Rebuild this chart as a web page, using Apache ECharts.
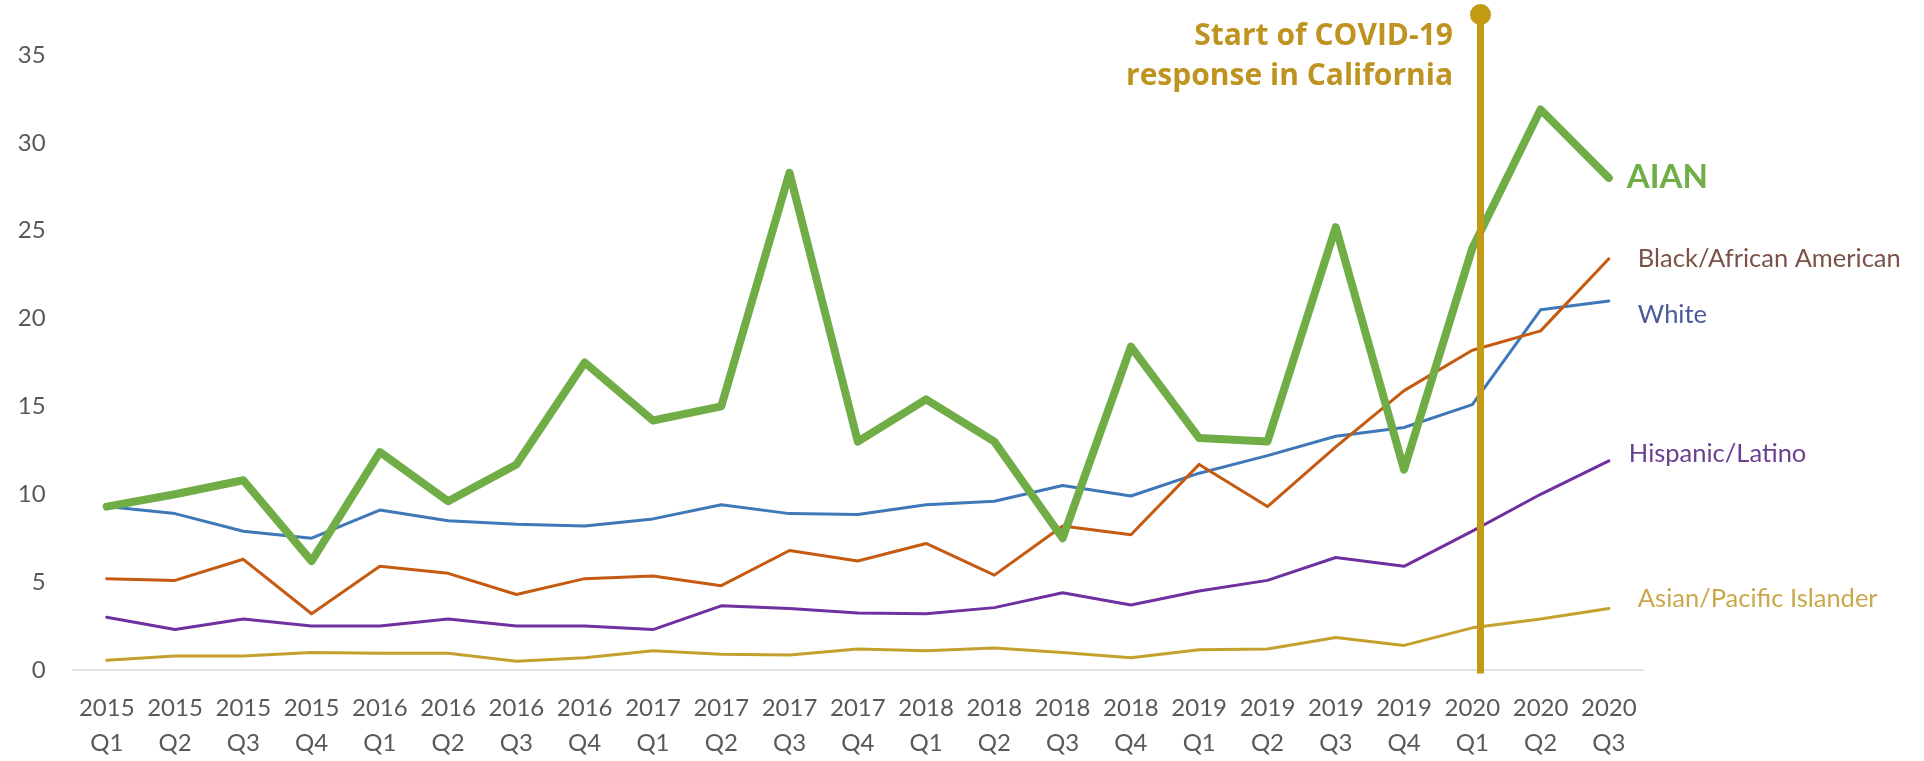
<!DOCTYPE html>
<html>
<head>
<meta charset="utf-8">
<script src="https://cdn.jsdelivr.net/npm/echarts@6/dist/echarts.min.js"></script>
<style>
  html, body { margin: 0; padding: 0; background: #fff; }
  #chart { width: 1924px; height: 761px; }
</style>
</head>
<body>
<div id="chart"></div>
<script>
// quarters on the x axis
const quarters = [
  '2015\nQ1', '2015\nQ2', '2015\nQ3', '2015\nQ4',
  '2016\nQ1', '2016\nQ2', '2016\nQ3', '2016\nQ4',
  '2017\nQ1', '2017\nQ2', '2017\nQ3', '2017\nQ4',
  '2018\nQ1', '2018\nQ2', '2018\nQ3', '2018\nQ4',
  '2019\nQ1', '2019\nQ2', '2019\nQ3', '2019\nQ4',
  '2020\nQ1', '2020\nQ2', '2020\nQ3'
]

// series values
const aian = [9.3, 10.0, 10.8, 6.2, 12.4, 9.6, 11.7, 17.5, 14.2, 15.0, 28.3, 13.0, 15.4, 13.0, 7.5, 18.4, 13.2, 13.0, 25.2, 11.4, 24.0, 31.9, 28.0]
const black = [5.2, 5.1, 6.3, 3.2, 5.9, 5.5, 4.3, 5.2, 5.35, 4.8, 6.8, 6.2, 7.2, 5.4, 8.2, 7.7, 11.7, 9.3, 12.7, 15.9, 18.2, 19.3, 23.4]
const white = [9.3, 8.9, 7.9, 7.5, 9.1, 8.5, 8.3, 8.2, 8.6, 9.4, 8.9, 8.85, 9.4, 9.6, 10.5, 9.9, 11.2, 12.2, 13.3, 13.8, 15.1, 20.5, 21.0]
const hispanic = [3.0, 2.3, 2.9, 2.5, 2.5, 2.9, 2.5, 2.5, 2.3, 3.65, 3.5, 3.25, 3.2, 3.55, 4.4, 3.7, 4.5, 5.1, 6.4, 5.9, 7.9, 10.0, 11.9]
const asian = [0.55, 0.8, 0.8, 1.0, 0.95, 0.95, 0.5, 0.7, 1.1, 0.9, 0.85, 1.2, 1.1, 1.25, 1.0, 0.7, 1.15, 1.2, 1.85, 1.4, 2.4, 2.9, 3.5]

// y axis ticks
const yTicks = [0, 5, 10, 15, 20, 25, 30, 35]

// covid marker: position on the quarter index scale, bottom and top values
const covidAt = 20.12
const covidRange = [-0.2, 37.3]
const covidText = 'Start of COVID-19\nresponse in California'

const FONT = 'Lato'

const chart = echarts.init(document.getElementById('chart'))

// one line series with a label at its end
const lineSeries = (name, data, color, width, label) => ({
  name: name,
  type: 'line',
  data: data,
  symbol: 'none',
  lineStyle: { color: color, width: width, cap: 'round', join: 'round' },
  endLabel: Object.assign({
    show: true,
    formatter: name,
    fontFamily: FONT
  }, label)
})

const option = {
  animation: false,
  backgroundColor: '#fff',
  grid: { left: 72.6, right: 281, top: 55, bottom: 89.5, containLabel: false },
  xAxis: [
    {
      type: 'category',
      data: quarters,
      boundaryGap: true,
      axisLine: { lineStyle: { color: '#d9d9d9', width: 1.5 } },
      axisTick: { show: false },
      axisLabel: {
        color: '#595959',
        fontFamily: FONT,
        fontSize: 24,
        lineHeight: 35,
        margin: 21,
        interval: 0
      }
    },
    {
      // hidden helper axis so the marker can sit between quarters
      type: 'value',
      min: -0.5,
      max: quarters.length - 0.5,
      show: false
    }
  ],
  yAxis: {
    type: 'value',
    min: yTicks[0],
    max: yTicks[yTicks.length - 1],
    interval: 5,
    axisLine: { show: false },
    axisTick: { show: false },
    splitLine: { show: false },
    axisLabel: {
      color: '#595959',
      fontFamily: FONT,
      fontSize: 24,
      margin: 27
    }
  },
  series: [
    lineSeries('Asian/Pacific Islander', asian, '#c4a12e', 3,
      { color: '#c9a84a', fontSize: 25.5, distance: 29, offset: [0, -10] }),
    lineSeries('Hispanic/Latino', hispanic, '#7030a0', 3,
      { color: '#6b3f8f', fontSize: 25.5, distance: 20, offset: [0, -7] }),
    lineSeries('White', white, '#3f78b8', 3,
      { color: '#4a5a9a', fontSize: 25.5, distance: 29, offset: [0, 14] }),
    lineSeries('Black/African American', black, '#c55a11', 3,
      { color: '#7b5148', fontSize: 25.5, distance: 29, offset: [0, 0] }),
    lineSeries('AIAN', aian, '#70ad47', 8,
      { color: '#70ad47', fontSize: 33, fontWeight: 'bold', distance: 18, offset: [0, -1] }),
    {
      name: 'covid',
      type: 'line',
      xAxisIndex: 1,
      clip: false,
      z: 5,
      data: [
        { value: [covidAt, covidRange[0]], symbol: 'none' },
        {
          value: [covidAt, covidRange[1]],
          symbol: 'circle',
          symbolSize: 21,
          label: {
            show: true,
            position: 'left',
            distance: 17,
            offset: [0, 42],
            formatter: covidText,
            align: 'right',
            color: '#bf9320',
            fontFamily: 'Open Sans',
            fontWeight: 'bold',
            fontSize: 30,
            lineHeight: 40
          }
        }
      ],
      itemStyle: { color: '#c39a14' },
      lineStyle: { color: '#c39a14', width: 7 }
    }
  ]
}

chart.setOption(option)
</script>
</body>
</html>
